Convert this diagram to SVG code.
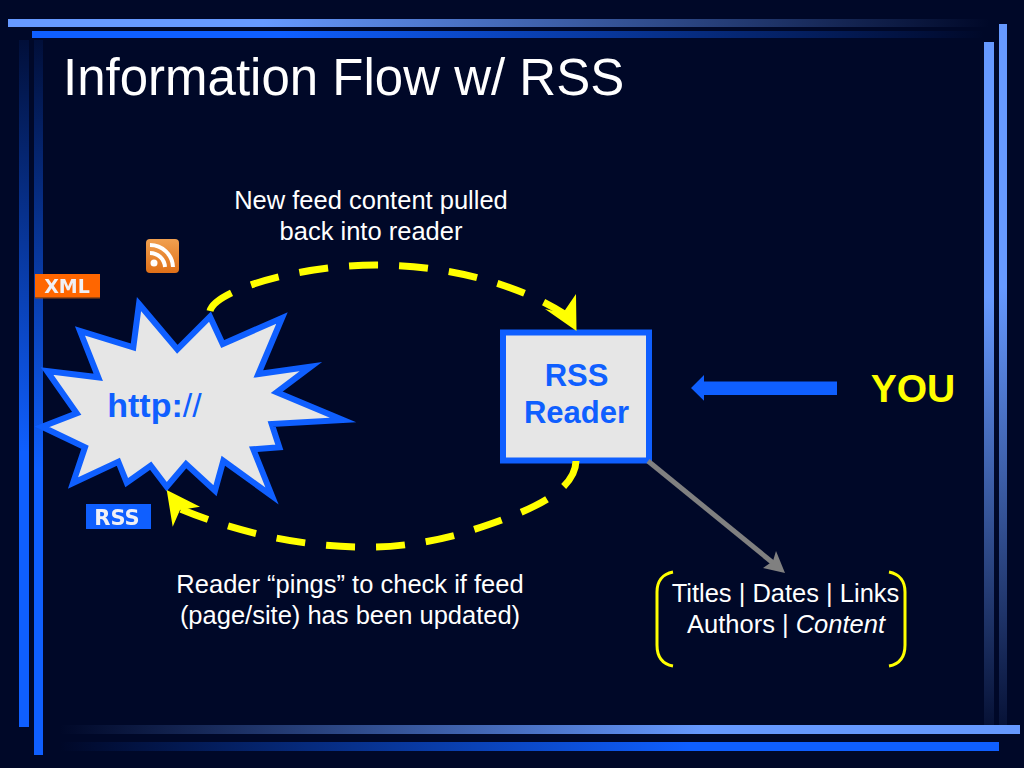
<svg xmlns="http://www.w3.org/2000/svg" width="1024" height="768" viewBox="0 0 1024 768">
<style>
text{font-family:"Liberation Sans",Arial,sans-serif}
.w{fill:#fff;font-size:25.500px;text-anchor:middle}
.b{fill:#0f5fff;font-weight:bold;text-anchor:middle}
.shape{fill:#e6e6e6;stroke:#0f5fff;stroke-width:6;stroke-miterlimit:30}
.dash{fill:none;stroke:#ff0;stroke-width:7;stroke-dasharray:29 21}
.br{fill:none;stroke:#ff0;stroke-width:3}
.badge{font-family:"DejaVu Sans",sans-serif;font-weight:bold;fill:#f0f0f5;text-anchor:middle;filter:url(#soft)}
</style>
<defs>
<filter id="soft" x="-10%" y="-10%" width="120%" height="120%"><feGaussianBlur stdDeviation="0.6"/></filter>
<linearGradient id="t1" gradientUnits="userSpaceOnUse" x1="8" y1="0" x2="990" y2="0"><stop offset="0" stop-color="#69f"/><stop offset=".26" stop-color="#69f"/><stop offset="1" stop-color="#69f" stop-opacity="0"/></linearGradient>
<linearGradient id="t2" gradientUnits="userSpaceOnUse" x1="32" y1="0" x2="985" y2="0"><stop offset="0" stop-color="#0f5fff"/><stop offset=".26" stop-color="#0f5fff"/><stop offset="1" stop-color="#0f5fff" stop-opacity="0"/></linearGradient>
<linearGradient id="b1" gradientUnits="userSpaceOnUse" x1="1020" y1="0" x2="60" y2="0"><stop offset="0" stop-color="#69f"/><stop offset=".33" stop-color="#69f"/><stop offset="1" stop-color="#69f" stop-opacity="0"/></linearGradient>
<linearGradient id="b2" gradientUnits="userSpaceOnUse" x1="999" y1="0" x2="60" y2="0"><stop offset="0" stop-color="#0f5fff"/><stop offset=".33" stop-color="#0f5fff"/><stop offset="1" stop-color="#0f5fff" stop-opacity="0"/></linearGradient>
<linearGradient id="l" x1="0" y1="1" x2="0" y2="0"><stop offset="0" stop-color="#0f5fff"/><stop offset=".4" stop-color="#0f5fff"/><stop offset="1" stop-color="#0f5fff" stop-opacity=".08"/></linearGradient>
<linearGradient id="r" x1="0" y1="0" x2="0" y2="1"><stop offset="0" stop-color="#69f"/><stop offset=".37" stop-color="#69f"/><stop offset="1" stop-color="#69f" stop-opacity=".05"/></linearGradient>
<linearGradient id="feed" x1="0" y1="0" x2="0" y2="1"><stop offset="0" stop-color="#f0a050"/><stop offset="1" stop-color="#e07018"/></linearGradient>
</defs>
<rect width="1024" height="768" fill="#000828"/>
<g id="frame">
<rect x="19" y="40" width="10" height="687" fill="url(#l)"/>
<rect x="34" y="40" width="9" height="715" fill="url(#l)"/>
<rect x="984" y="42" width="10" height="690" fill="url(#r)"/>
<rect x="999" y="24" width="8" height="710" fill="url(#r)"/>
<rect x="8" y="19" width="982" height="8" fill="url(#t1)"/>
<rect x="32" y="31" width="953" height="7" fill="url(#t2)"/>
<rect x="60" y="725" width="960" height="9" fill="url(#b1)"/>
<rect x="60" y="742" width="939" height="9" fill="url(#b2)"/>
</g>
<text id="title" x="63" y="95" fill="#fff" font-size="51">Information Flow w/ RSS</text>
<g id="xml-badge"><rect x="35" y="274" width="65" height="24" fill="#f60"/><rect x="35" y="297" width="65" height="1.500" fill="#a04a10"/><text class="badge" x="67" y="293" font-size="19">XML</text></g>
<g id="feed-icon"><rect x="146" y="239" width="33" height="34" rx="4" fill="url(#feed)"/><circle cx="154" cy="263" r="3.5" fill="#fff"/><path d="M150 253a15 15 0 0 1 15 14M150 245a23 23 0 0 1 23 22" fill="none" stroke="#fff" stroke-width="4"/></g>
<g id="rss-badge"><rect x="86" y="504" width="65" height="25" fill="#0f5fff"/><text class="badge" x="117" y="525" font-size="21">RSS</text></g>
<g id="burst"><polygon class="shape" points="139,304 177.3,349.3 210,316.7 222.700,344 282,318 258.300,374 311,366.500 276.700,392.300 343,420 271.700,424 279.300,447.300 253.300,449.300 272,496 223.300,460.700 215,490.700 186,464 166.700,486.700 150.700,465.700 126.700,482.700 118.300,461.700 73,483 85,447.300 42,426.700 76.700,413.300 47,371 98.300,377.300 80,331 133.300,347.300"/><text class="b" x="154.500" y="417" font-size="34">http:<tspan font-weight="normal">//</tspan></text></g>
<g id="reader"><rect class="shape" x="503" y="332.500" width="146" height="128"/><text class="b" x="576.500" y="386" font-size="31">RSS</text><text class="b" x="576.500" y="423" font-size="31">Reader</text></g>
<text id="you" x="913" y="402" fill="#ff0" font-size="39" font-weight="bold" text-anchor="middle">YOU</text>
<g id="connectors">
<path class="dash" d="M210 311C215 290 300 265 376 265C450 265 520 285 566 315"/>
<polygon points="576.500,331 576,294 563,313 545,309" fill="#ff0"/>
<path class="dash" d="M576 461C575 495 520 515 460 534C430 542 400 547 370 547C300 548 230 530 178 508"/>
<polygon points="166.700,490 172.700,526.700 180,510 200,506.700" fill="#ff0"/>
<polygon points="704,375 691,388 704,400.700 704,395 837,395 837,381.500 704,381.500" fill="#0f5fff"/>
<line x1="648" y1="461" x2="778" y2="567" stroke="#808080" stroke-width="5"/>
<polygon points="785,573 776,551 773,561 763,568" fill="#808080"/>
</g>
<g id="labels">
<text class="w" x="371" y="209">New feed content pulled</text>
<text class="w" x="371" y="240">back into reader</text>
<text class="w" x="350" y="593">Reader “pings” to check if feed</text>
<text class="w" x="350" y="624">(page/site) has been updated)</text>
</g>
<g id="fields">
<path class="br" d="M673 572C662 574 657 582 657 592V645C657 656 662 664 673 666"/>
<path class="br" d="M889 572C900 574 905 582 905 592V645C905 656 900 664 889 666"/>
<text class="w" x="785.500" y="602">Titles | Dates | Links</text>
<text class="w" x="786" y="633">Authors | <tspan font-style="italic">Content</tspan></text>
</g>
</svg>
